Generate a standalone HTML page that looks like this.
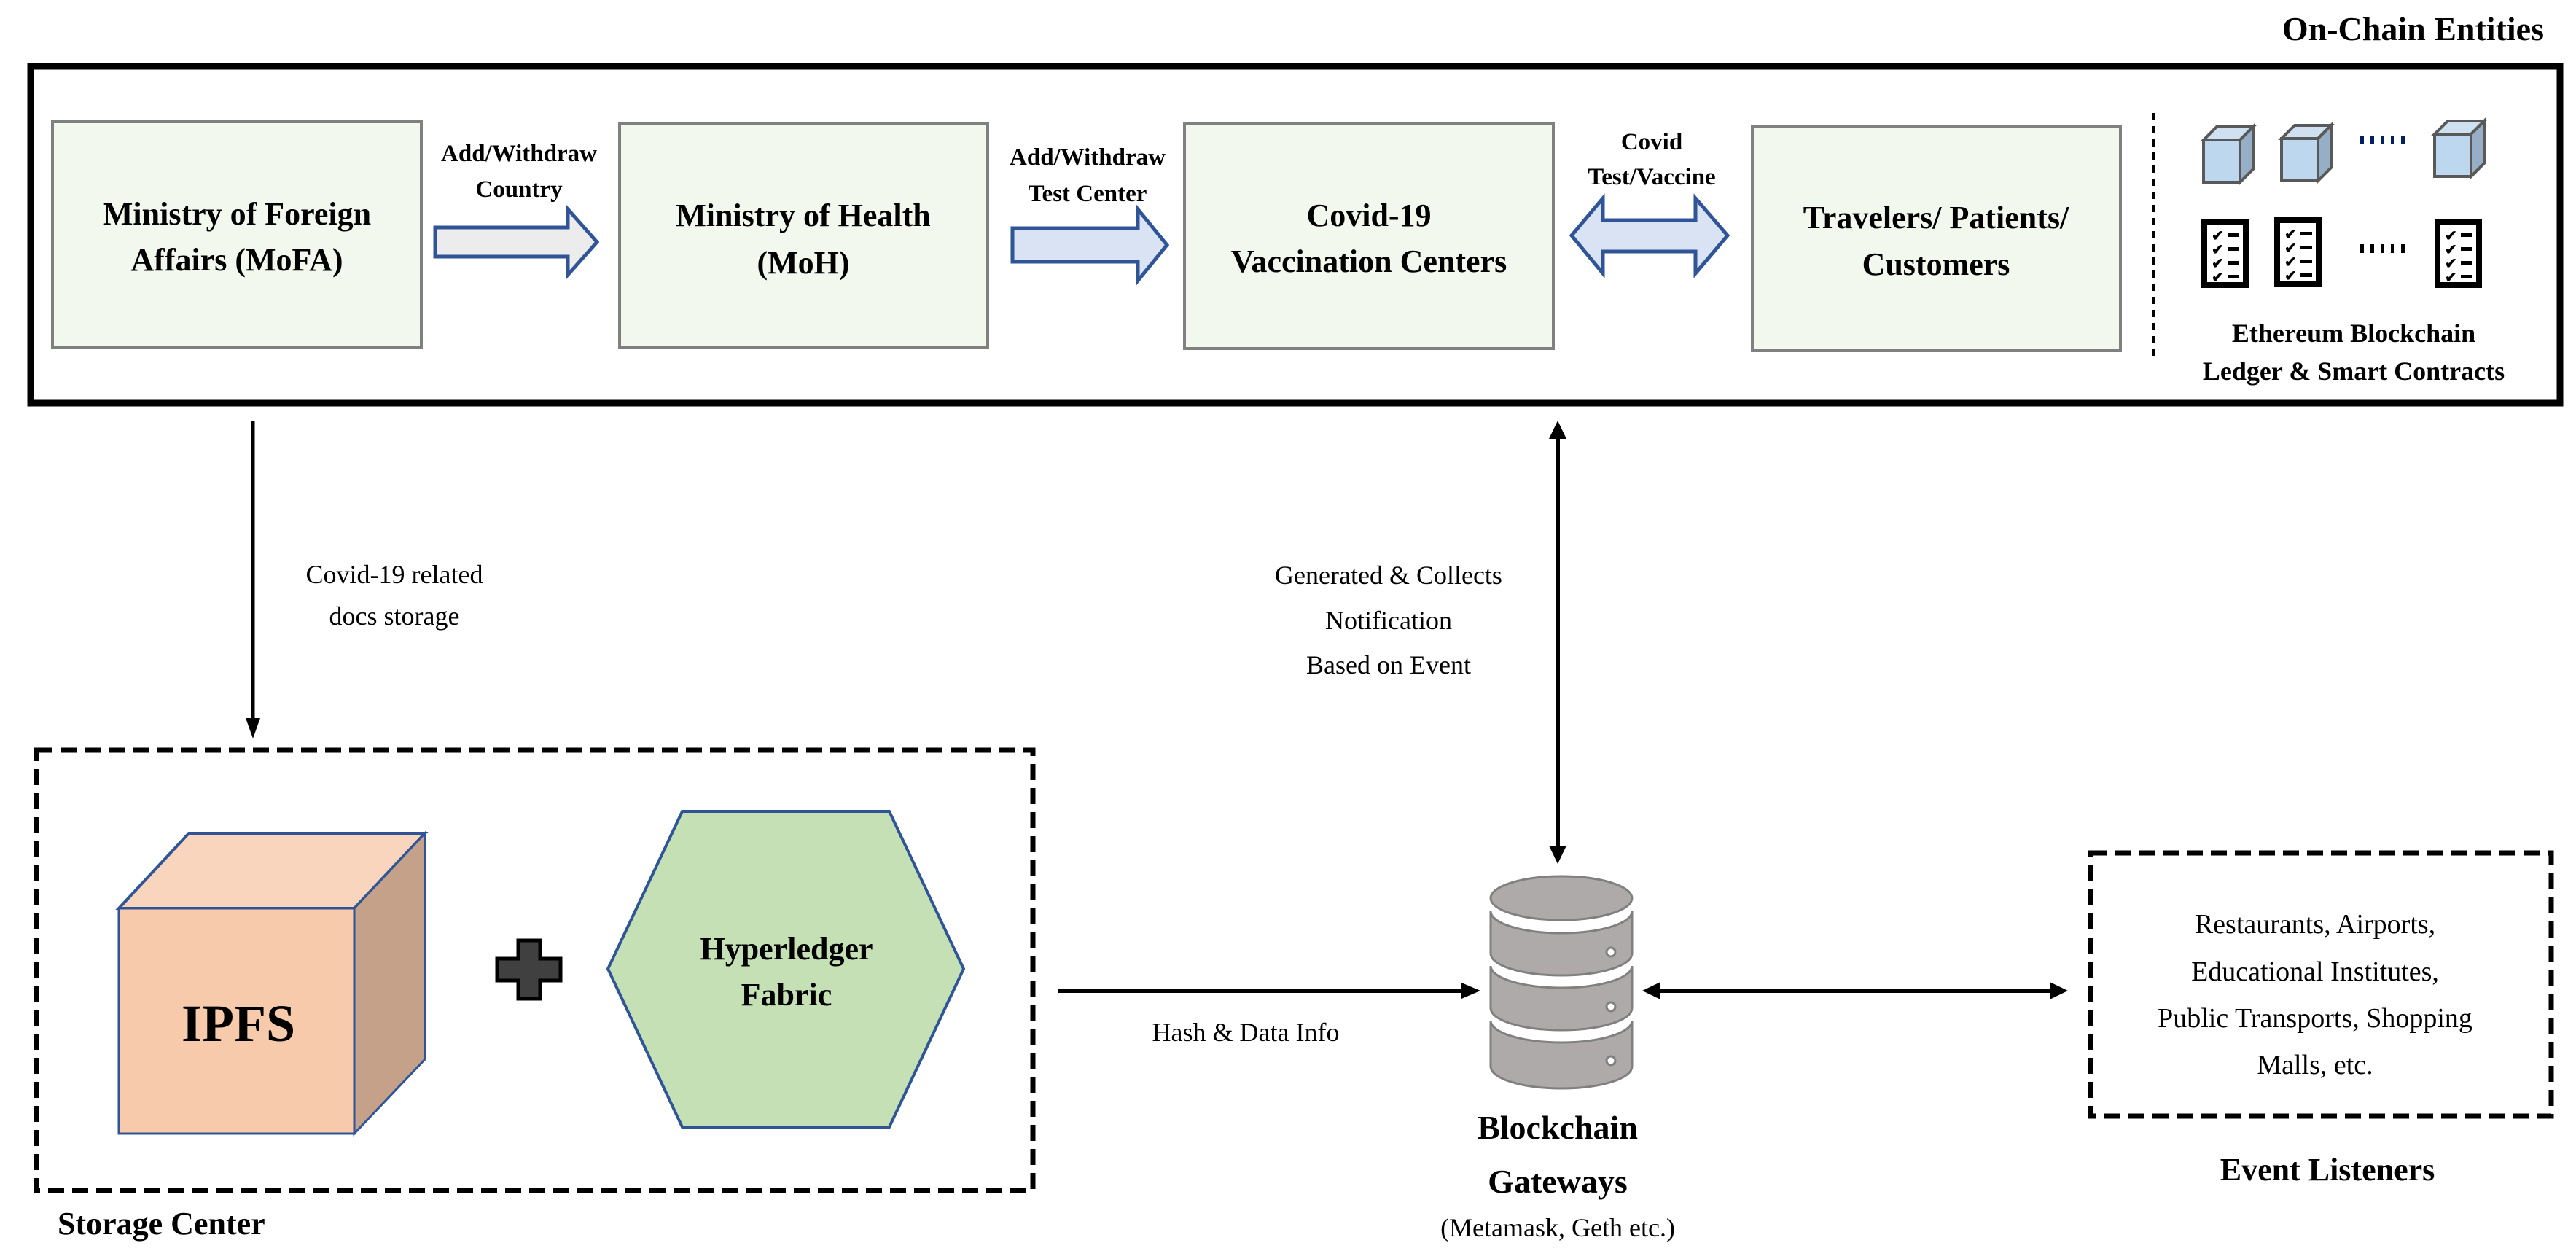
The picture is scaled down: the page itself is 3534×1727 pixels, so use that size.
<!DOCTYPE html>
<html><head><meta charset="utf-8"><style>
html,body{margin:0;padding:0;background:#fff;}
svg{display:block;}
text{font-family:"Liberation Serif",serif;fill:#000;}
.b{font-weight:bold;}
</style></head><body>
<svg width="3534" height="1727" viewBox="0 0 3534 1727" xmlns="http://www.w3.org/2000/svg">
<defs>
<marker id="ah" markerWidth="6" markerHeight="6" refX="5" refY="3" orient="auto" markerUnits="strokeWidth">
<path d="M0,0 L6,3 L0,6 Z" fill="#000"/></marker>
<g id="doc">
<rect x="4" y="4" width="57" height="87" fill="#fff" stroke="#000" stroke-width="8"/>
<g font-size="20" font-weight="bold">
<text x="14" y="30">✔</text><rect x="36" y="20" width="16" height="5" fill="#000"/>
<text x="14" y="49">✔</text><rect x="36" y="39" width="16" height="5" fill="#000"/>
<text x="14" y="68">✔</text><rect x="36" y="58" width="16" height="5" fill="#000"/>
<text x="14" y="87">✔</text><rect x="36" y="77" width="16" height="5" fill="#000"/>
</g></g>
<g id="cube">
<polygon points="0,18 18,0 68,0 50,18" fill="#cfe0f0" stroke="#595959" stroke-width="4"/>
<polygon points="50,18 68,0 68,58 50,76" fill="#97afc6" stroke="#595959" stroke-width="4"/>
<rect x="0" y="18" width="50" height="58" fill="#bdd7ee" stroke="#595959" stroke-width="4"/>
</g>
</defs>

<!-- title -->
<text x="3490" y="55" class="b" font-size="46" text-anchor="end">On-Chain Entities</text>

<!-- main box -->
<rect x="42" y="91" width="3470" height="462" fill="none" stroke="#000" stroke-width="9"/>

<!-- entity boxes -->
<g fill="#f3f8ee" stroke="#808080" stroke-width="4">
<rect x="72" y="167" width="506" height="310"/>
<rect x="850" y="169" width="505" height="308"/>
<rect x="1625" y="169" width="506" height="309"/>
<rect x="2404" y="174" width="505" height="307"/>
</g>
<g class="b" font-size="44" text-anchor="middle">
<text x="325" y="308">Ministry of Foreign</text>
<text x="325" y="371">Affairs (MoFA)</text>
<text x="1102" y="310">Ministry of Health</text>
<text x="1102" y="375">(MoH)</text>
<text x="1878" y="310">Covid-19</text>
<text x="1878" y="373">Vaccination Centers</text>
<text x="2656" y="313">Travelers/ Patients/</text>
<text x="2656" y="377">Customers</text>
</g>

<!-- block arrows -->
<polygon points="597,312 779,312 779,287 819,332 779,377 779,352 597,352" fill="#ececec" stroke="#2f5597" stroke-width="5"/>
<polygon points="1389,313 1561,313 1561,287 1601,336 1561,385 1561,359 1389,359" fill="#dae3f3" stroke="#2f5597" stroke-width="5"/>
<polygon points="2156,323 2199,272 2199,302 2326,302 2326,272 2370,323 2326,375 2326,345 2199,345 2199,375" fill="#dae3f3" stroke="#2f5597" stroke-width="5"/>
<g class="b" font-size="33" text-anchor="middle">
<text x="712" y="221">Add/Withdraw</text>
<text x="712" y="270">Country</text>
<text x="1492" y="226">Add/Withdraw</text>
<text x="1492" y="276">Test Center</text>
<text x="2266" y="205">Covid</text>
<text x="2266" y="253">Test/Vaccine</text>
</g>

<!-- dotted separator -->
<line x1="2955" y1="155" x2="2955" y2="489" stroke="#000" stroke-width="4" stroke-dasharray="10,8"/>
<!-- cubes -->
<use href="#cube" x="3023" y="174"/>
<use href="#cube" x="3130" y="172"/>
<use href="#cube" x="3340" y="166"/>
<g fill="#002060"><rect x="3238" y="186" width="5" height="12"/><rect x="3252" y="186" width="5" height="12"/><rect x="3266" y="186" width="5" height="12"/><rect x="3280" y="186" width="5" height="12"/><rect x="3294" y="186" width="5" height="12"/></g>
<use href="#doc" x="3020" y="300"/>
<use href="#doc" x="3120" y="298"/>
<use href="#doc" x="3340" y="300"/>
<g fill="#000"><rect x="3238" y="335" width="5" height="12"/><rect x="3252" y="335" width="5" height="12"/><rect x="3266" y="335" width="5" height="12"/><rect x="3280" y="335" width="5" height="12"/><rect x="3294" y="335" width="5" height="12"/></g>
<g class="b" font-size="36" text-anchor="middle">
<text x="3229" y="469">Ethereum Blockchain</text>
<text x="3229" y="521">Ledger &amp; Smart Contracts</text>
</g>

<!-- down arrow to storage -->
<line x1="347" y1="578" x2="347" y2="990" stroke="#000" stroke-width="5"/>
<polygon points="337,985 357,985 347,1013" fill="#000"/>
<g font-size="36" text-anchor="middle">
<text x="541" y="800">Covid-19 related</text>
<text x="541" y="857">docs storage</text>
</g>

<!-- storage box -->
<rect x="50" y="1029" width="1367" height="604" fill="none" stroke="#000" stroke-width="7" stroke-dasharray="22,11"/>
<!-- IPFS cube -->
<polygon points="163,1246 259,1143 583,1143 486,1246" fill="#f8d5bc" stroke="#2f5597" stroke-width="4"/>
<polygon points="486,1246 583,1143 583,1453 486,1555" fill="#c5a18a" stroke="#2f5597" stroke-width="3"/>
<rect x="163" y="1246" width="323" height="309" fill="#f6caab" stroke="#2f5597" stroke-width="3"/>
<text x="327" y="1428" class="b" font-size="72" text-anchor="middle">IPFS</text>
<!-- plus -->
<path d="M711,1290 H741 V1315 H769 V1345 H741 V1370 H711 V1345 H682 V1315 H711 Z" fill="#404040" stroke="#000" stroke-width="5"/>
<!-- hexagon -->
<polygon points="936,1113 1220,1113 1322,1329 1220,1546 936,1546 834,1329" fill="#c5e0b4" stroke="#2f5597" stroke-width="4"/>
<g class="b" font-size="44" text-anchor="middle">
<text x="1079" y="1316">Hyperledger</text>
<text x="1079" y="1379">Fabric</text>
</g>
<text x="79" y="1693" class="b" font-size="44">Storage Center</text>

<!-- hash arrow -->
<line x1="1451" y1="1359" x2="2010" y2="1359" stroke="#000" stroke-width="6"/>
<polygon points="2005,1348 2031,1359 2005,1370" fill="#000"/>
<text x="1709" y="1428" font-size="36" text-anchor="middle">Hash &amp; Data Info</text>

<!-- vertical double arrow -->
<line x1="2137" y1="595" x2="2137" y2="1165" stroke="#000" stroke-width="6"/>
<polygon points="2125,602 2137,577 2149,602" fill="#000"/>
<polygon points="2125,1160 2137,1185 2149,1160" fill="#000"/>
<g font-size="36" text-anchor="middle">
<text x="1905" y="801">Generated &amp; Collects</text>
<text x="1905" y="863">Notification</text>
<text x="1905" y="924">Based on Event</text>
</g>

<!-- database -->
<g fill="#aeaaaa" stroke="#808080" stroke-width="3">
<path d="M2045,1250 A97,30 0 0 0 2239,1250 L2239,1308 A97,30 0 0 1 2045,1308 Z"/>
<path d="M2045,1325 A97,30 0 0 0 2239,1325 L2239,1383 A97,30 0 0 1 2045,1383 Z"/>
<path d="M2045,1400 A97,30 0 0 0 2239,1400 L2239,1463 A97,30 0 0 1 2045,1463 Z"/>
<ellipse cx="2142" cy="1232" rx="97" ry="30"/>
</g>
<g fill="#fff" stroke="#808080" stroke-width="3">
<circle cx="2210" cy="1306" r="6"/><circle cx="2210" cy="1381" r="6"/><circle cx="2210" cy="1455" r="6"/>
</g>
<g class="b" font-size="46" text-anchor="middle">
<text x="2137" y="1562">Blockchain</text>
<text x="2137" y="1636">Gateways</text>
</g>
<text x="2137" y="1696" font-size="36" text-anchor="middle">(Metamask, Geth etc.)</text>

<!-- event arrow -->
<line x1="2270" y1="1359" x2="2820" y2="1359" stroke="#000" stroke-width="6"/>
<polygon points="2278,1347 2253,1359 2278,1371" fill="#000"/>
<polygon points="2812,1347 2837,1359 2812,1371" fill="#000"/>

<!-- event listeners box -->
<rect x="2868" y="1170" width="632" height="361" fill="none" stroke="#000" stroke-width="7" stroke-dasharray="22,11"/>
<g font-size="38" text-anchor="middle">
<text x="3176" y="1280">Restaurants, Airports,</text>
<text x="3176" y="1345">Educational Institutes,</text>
<text x="3176" y="1409">Public Transports, Shopping</text>
<text x="3176" y="1473">Malls, etc.</text>
</g>
<text x="3193" y="1619" class="b" font-size="44" text-anchor="middle">Event Listeners</text>
</svg>
</body></html>
